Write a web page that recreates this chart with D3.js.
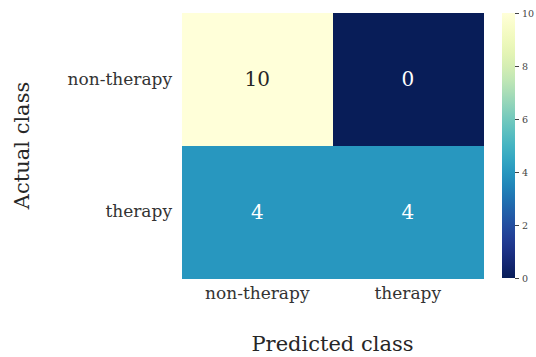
<!DOCTYPE html>
<html>
<head>
<meta charset="utf-8">
<script src="https://cdn.jsdelivr.net/npm/d3@7"></script>
<style>
  body { margin: 0; background: #fff; }
  svg text { font-family: "DejaVu Serif", serif; }
</style>
</head>
<body>
<div id="chart"></div>
<script>
// confusion matrix data
var actual_classes = ["non-therapy", "therapy"];
var predicted_classes = ["non-therapy", "therapy"];
var counts = [[10, 0], [4, 4]];
var cbar_ticks = [0, 2, 4, 6, 8, 10];

var width = 536, height = 357;
var plot = {left: 182, right: 483, top: 13, bottom: 278};

var svg = d3.select("#chart")
    .append("svg")
    .attr("width", width)
    .attr("height", height);

var xScale = d3.scaleBand().domain(predicted_classes).range([plot.left, plot.right]);
var yScale = d3.scaleBand().domain(actual_classes).range([plot.top, plot.bottom]);
// reversed YlGnBu: low = dark blue, high = pale yellow
var color = d3.scaleSequential(function(t) { return d3.interpolateYlGnBu(1 - t); }).domain([0, 10]);

var cells = [];
for (var i = 0; i < actual_classes.length; i++) {
    for (var j = 0; j < predicted_classes.length; j++) {
        cells.push({row: actual_classes[i], col: predicted_classes[j], value: counts[i][j]});
    }
}

svg.append("g")
    .selectAll("rect")
    .data(cells)
    .enter()
    .append("rect")
    .attr("x", function(d) { return xScale(d.col); })
    .attr("y", function(d) { return yScale(d.row); })
    .attr("width", xScale.bandwidth() + 0.5)
    .attr("height", yScale.bandwidth() + 0.5)
    .attr("shape-rendering", "crispEdges")
    .attr("fill", function(d) { return color(d.value); });

svg.append("g")
    .selectAll("text")
    .data(cells)
    .enter()
    .append("text")
    .attr("x", function(d) { return xScale(d.col) + xScale.bandwidth() / 2; })
    .attr("y", function(d) { return yScale(d.row) + yScale.bandwidth() / 2; })
    .attr("text-anchor", "middle")
    .attr("dominant-baseline", "central")
    .attr("font-size", 20)
    .attr("fill", function(d) { return d.value > 6 ? "#262626" : "#ffffff"; })
    .text(function(d) { return d.value; });

// axes (no tick lines, seaborn style)
var yAxis = d3.axisLeft(yScale).tickSize(0).tickPadding(10);
var gy = svg.append("g")
    .attr("transform", "translate(" + plot.left + ",0)")
    .call(yAxis);
gy.select(".domain").remove();
gy.selectAll("text")
    .attr("font-size", 17)
    .attr("font-family", "DejaVu Serif")
    .attr("fill", "#333");

var xAxis = d3.axisBottom(xScale).tickSize(0).tickPadding(9);
var gx = svg.append("g")
    .attr("transform", "translate(0," + plot.bottom + ")")
    .call(xAxis);
gx.select(".domain").remove();
gx.selectAll("text")
    .attr("font-size", 17)
    .attr("font-family", "DejaVu Serif")
    .attr("fill", "#333");

// axis labels
svg.append("text")
    .attr("transform", "translate(29," + (plot.top + plot.bottom) / 2 + ") rotate(-90)")
    .attr("text-anchor", "middle")
    .attr("font-size", 21)
    .attr("fill", "#262626")
    .text("Actual class");

svg.append("text")
    .attr("x", (plot.left + plot.right) / 2)
    .attr("y", 351)
    .attr("text-anchor", "middle")
    .attr("font-size", 21)
    .attr("fill", "#262626")
    .text("Predicted class");

// colorbar
var cb = {left: 502, width: 13};
var cScale = d3.scaleLinear().domain([0, 10]).range([plot.bottom, plot.top]);
var defs = svg.append("defs");
var grad = defs.append("linearGradient")
    .attr("id", "cbgrad")
    .attr("x1", 0).attr("y1", 1).attr("x2", 0).attr("y2", 0);
d3.range(0, 1.0001, 0.05).forEach(function(t) {
    grad.append("stop")
        .attr("offset", t)
        .attr("stop-color", color(t * 10));
});
svg.append("rect")
    .attr("x", cb.left)
    .attr("y", cScale(10))
    .attr("width", cb.width)
    .attr("height", cScale(0) - cScale(10))
    .attr("fill", "url(#cbgrad)");

var cAxis = d3.axisRight(cScale).tickValues(cbar_ticks).tickSize(4).tickPadding(3);
var gc = svg.append("g")
    .attr("transform", "translate(" + (cb.left + cb.width) + ",0)")
    .call(cAxis);
gc.select(".domain").remove();
gc.selectAll("line").attr("stroke", "#444");
gc.selectAll("text")
    .attr("font-size", 9.5)
    .attr("font-family", "DejaVu Sans")
    .attr("fill", "#444");
</script>
</body>
</html>
